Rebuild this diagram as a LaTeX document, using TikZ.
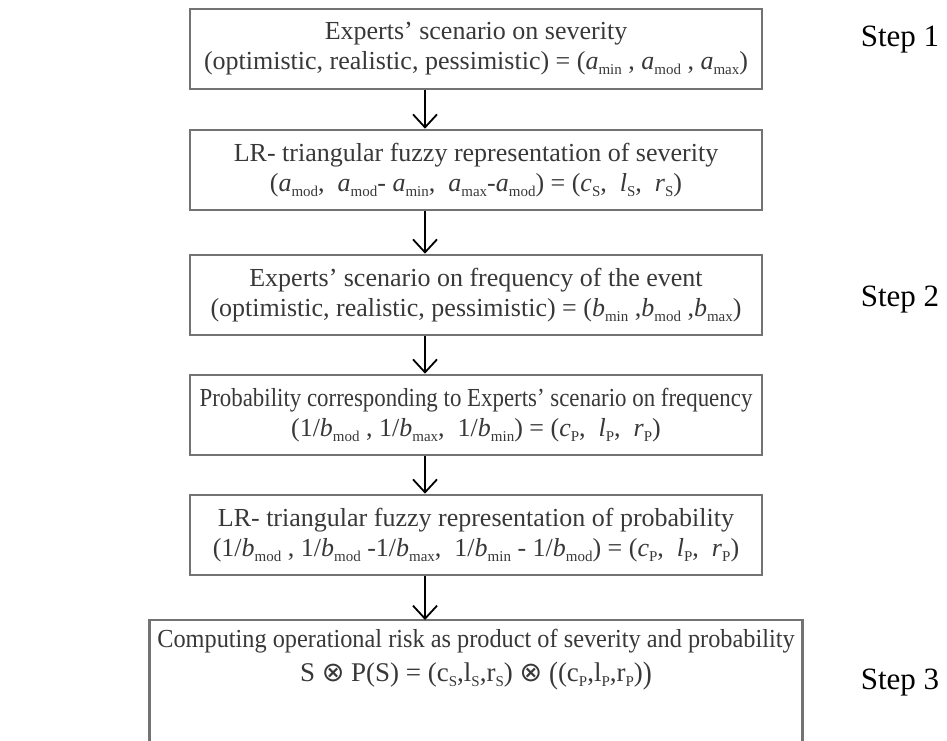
\documentclass[tikz,border=0pt]{standalone}
\usepackage{fontspec}
\setmainfont{Liberation Serif}
\newfontfamily\symf{DejaVu Sans}
\usepackage{graphicx}
\usetikzlibrary{arrows.meta}
\newcommand\sub[1]{\raisebox{-0.4ex}{\fontsize{15}{15}\selectfont #1}}
\newcommand\vi[1]{\textit{#1}}
\newcommand\ot{{\symf ⊗}}
\newcommand\bigpar[1]{\raisebox{-0.08em}{\scalebox{1}[1.15]{#1}}}
\begin{document}
\begin{tikzpicture}[x=1pt,y=-1pt,
  boxline/.style={draw=black!55,line width=2.6pt},
  stepbox/.style={boxline,minimum width=572pt,minimum height=80pt,align=center,inner sep=0pt,
     font=\fontsize{26}{30}\selectfont,text=black!78},
  lastbox/.style={minimum width=653pt,minimum height=150pt,align=center,inner sep=0pt,
     font=\fontsize{26}{34}\selectfont,text=black!78},
  arr/.style={draw=black,line width=1.8pt,-{Straight Barb[length=13pt,width=24pt,line width=1.8pt]}},
  steplabel/.style={font=\fontsize{31}{31}\selectfont,text=black,inner sep=0pt}]
\useasboundingbox (0,0) rectangle (947,740);
\coordinate (ax) at (425,0);
\node[stepbox] (b1) at (476,49) {Experts’ scenario on severity\\(optimistic, realistic, pessimistic) = (\vi{a}\sub{min} , \vi{a}\sub{mod} , \vi{a}\sub{max})};
\node[stepbox] (b2) at (476,170) {LR- triangular fuzzy representation of severity\\(\vi{a}\sub{mod},\ \ \vi{a}\sub{mod}- \vi{a}\sub{min},\ \ \vi{a}\sub{max}-\vi{a}\sub{mod}) = (\vi{c}\sub{S},\ \ \vi{l}\sub{S},\ \ \vi{r}\sub{S})};
\node[stepbox] (b3) at (476,295) {Experts’ scenario on frequency of the event\\(optimistic, realistic, pessimistic) = (\vi{b}\sub{min} ,\vi{b}\sub{mod} ,\vi{b}\sub{max})};
\node[stepbox] (b4) at (476,415) {\scalebox{0.88}[1]{Probability corresponding to Experts’ scenario on frequency}\\(1/\vi{b}\sub{mod} , 1/\vi{b}\sub{max},\ \ 1/\vi{b}\sub{min}) = (\vi{c}\sub{P},\ \ \vi{l}\sub{P},\ \ \vi{r}\sub{P})};
\node[stepbox] (b5) at (476,535) {LR- triangular fuzzy representation of probability\\(1/\vi{b}\sub{mod} , 1/\vi{b}\sub{mod} -1/\vi{b}\sub{max},\ \ 1/\vi{b}\sub{min} - 1/\vi{b}\sub{mod}) = (\vi{c}\sub{P},\ \ \vi{l}\sub{P},\ \ \vi{r}\sub{P})};
\node[lastbox,anchor=north] (b6) at (476,620) {\rule{0pt}{25pt}\scalebox{0.935}[1]{Computing operational risk as product of severity and probability}\\{\fontsize{27}{34}\selectfont S \ot\ P(S) = (c\sub{S},l\sub{S},r\sub{S}) \ot\ \bigpar{(}(c\sub{P},l\sub{P},r\sub{P})\bigpar{)}}\\[52pt]};
\draw[boxline] (b6.south west) -- (b6.north west) -- (b6.north east) -- (b6.south east);
\draw[arr] (b1.south -| ax) -- (b2.north -| ax);
\draw[arr] (b2.south -| ax) -- (b3.north -| ax);
\draw[arr] (b3.south -| ax) -- (b4.north -| ax);
\draw[arr] (b4.south -| ax) -- (b5.north -| ax);
\draw[arr] (b5.south -| ax) -- (b6.north -| ax);
\node[steplabel] (s1) at (900,40) {Step 1};
\node[steplabel] (s2) at (900,300) {Step 2};
\node[steplabel] (s3) at (900,683) {Step 3};
\end{tikzpicture}
\end{document}
